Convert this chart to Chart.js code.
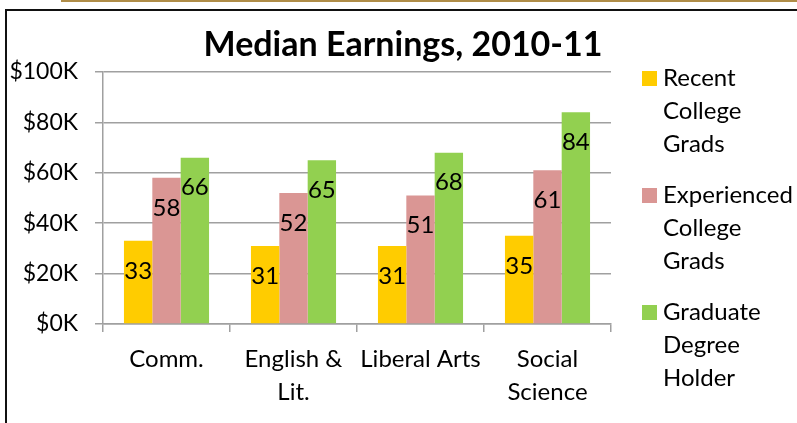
<!DOCTYPE html>
<html>
<head>
<meta charset="utf-8">
<script src="https://cdn.jsdelivr.net/npm/chart.js@4.4.0/dist/chart.umd.min.js"></script>
<style>
  html, body { margin: 0; padding: 0; background: #fff; }
  #wrap { position: relative; width: 797px; height: 423px; }
  #topline { position: absolute; left: 61px; top: 0; width: 736px; height: 2px; background: #b08d48; }
  #frame { position: absolute; left: 5px; top: 9px; width: 792px; height: 414px; border-top: 2px solid #111; border-left: 2px solid #111; box-sizing: border-box; }
  canvas { position: absolute; left: 0; top: 0; }
</style>
</head>
<body>
<div id="wrap">
  <div id="topline"></div>
  <div id="frame"></div>
  <canvas id="grafica" width="797" height="423"></canvas>
</div>
<script>
const FONT = 'Lato, "Open Sans", sans-serif';

const categorias = [['Comm.'], ['English &', 'Lit.'], ['Liberal Arts'], ['Social', 'Science']];
const series = [
  ['Recent', 'College', 'Grads'],
  ['Experienced', 'College', 'Grads'],
  ['Graduate', 'Degree', 'Holder']
];
const recientes = [33, 31, 31, 35];
const experimentados = [58, 52, 51, 61];
const posgrado = [66, 65, 68, 84];
const colores = ['#FFCC00', '#DA9694', '#92D050'];
const yTicks = ['$0K', '$20K', '$40K', '$60K', '$80K', '$100K'];

// etiquetas dentro de cada barra, unos 30px por debajo del borde superior
const etiquetas = {
  id: 'etiquetas',
  afterDatasetsDraw(chart) {
    const ctx = chart.ctx;
    ctx.save();
    ctx.font = '24px ' + FONT;
    ctx.fillStyle = '#000';
    ctx.textAlign = 'center';
    ctx.textBaseline = 'middle';
    chart.data.datasets.forEach((ds, i) => {
      chart.getDatasetMeta(i).data.forEach((bar, j) => {
        ctx.fillText(ds.data[j], bar.x, bar.y + 30);
      });
    });
    ctx.restore();
  }
};

// titulo y leyenda dibujados a mano
const decorado = {
  id: 'decorado',
  afterDraw(chart) {
    const ctx = chart.ctx;
    ctx.save();
    ctx.fillStyle = '#000';
    ctx.font = 'bold 34px ' + FONT;
    ctx.textAlign = 'center';
    ctx.textBaseline = 'middle';
    ctx.fillText('Median Earnings, 2010-11', 403, 45);

    ctx.font = '24px ' + FONT;
    ctx.textAlign = 'left';
    series.forEach((lineas, i) => {
      const y0 = 78 + i * 117;
      ctx.fillStyle = colores[i];
      ctx.fillRect(642, y0 - 7, 15, 15);
      ctx.fillStyle = '#000';
      lineas.forEach((t, k) => ctx.fillText(t, 663, y0 + k * 33));
    });
    ctx.restore();
  }
};

const ctx1 = document.getElementById('grafica').getContext('2d');
let ch = new Chart(ctx1, {
  type: 'bar',
  data: {
    labels: categorias,
    datasets: [
      { label: series[0].join(' '), data: recientes, backgroundColor: colores[0] },
      { label: series[1].join(' '), data: experimentados, backgroundColor: colores[1] },
      { label: series[2].join(' '), data: posgrado, backgroundColor: colores[2] }
    ]
  },
  options: {
    responsive: false,
    animation: false,
    categoryPercentage: 0.67,
    barPercentage: 1.0,
    layout: { padding: { top: 72, right: 186, bottom: 0, left: 0 } },
    plugins: {
      legend: { display: false },
      title: { display: false },
      tooltip: { enabled: false }
    },
    scales: {
      y: {
        min: 0,
        max: 100,
        afterFit(s) { s.width = 103; },
        ticks: {
          stepSize: 20,
          padding: 17,
          color: '#000',
          font: { family: FONT, size: 23 },
          callback: function(value) {
            return yTicks[Math.round(value / 20)];
          }
        },
        grid: { color: '#a0a0a0', lineWidth: 1.5, tickLength: 8 },
        border: { color: '#a0a0a0', width: 1.5 }
      },
      x: {
        afterFit(s) { s.height = 99; },
        ticks: {
          padding: 10,
          color: '#000',
          maxRotation: 0,
          autoSkip: false,
          font: { family: FONT, size: 24, lineHeight: 1.4 }
        },
        grid: { offset: true, drawOnChartArea: false, color: '#a0a0a0', lineWidth: 1.5, tickLength: 8 },
        border: { color: '#a0a0a0', width: 1.5 }
      }
    }
  },
  plugins: [etiquetas, decorado]
});
</script>
</body>
</html>
